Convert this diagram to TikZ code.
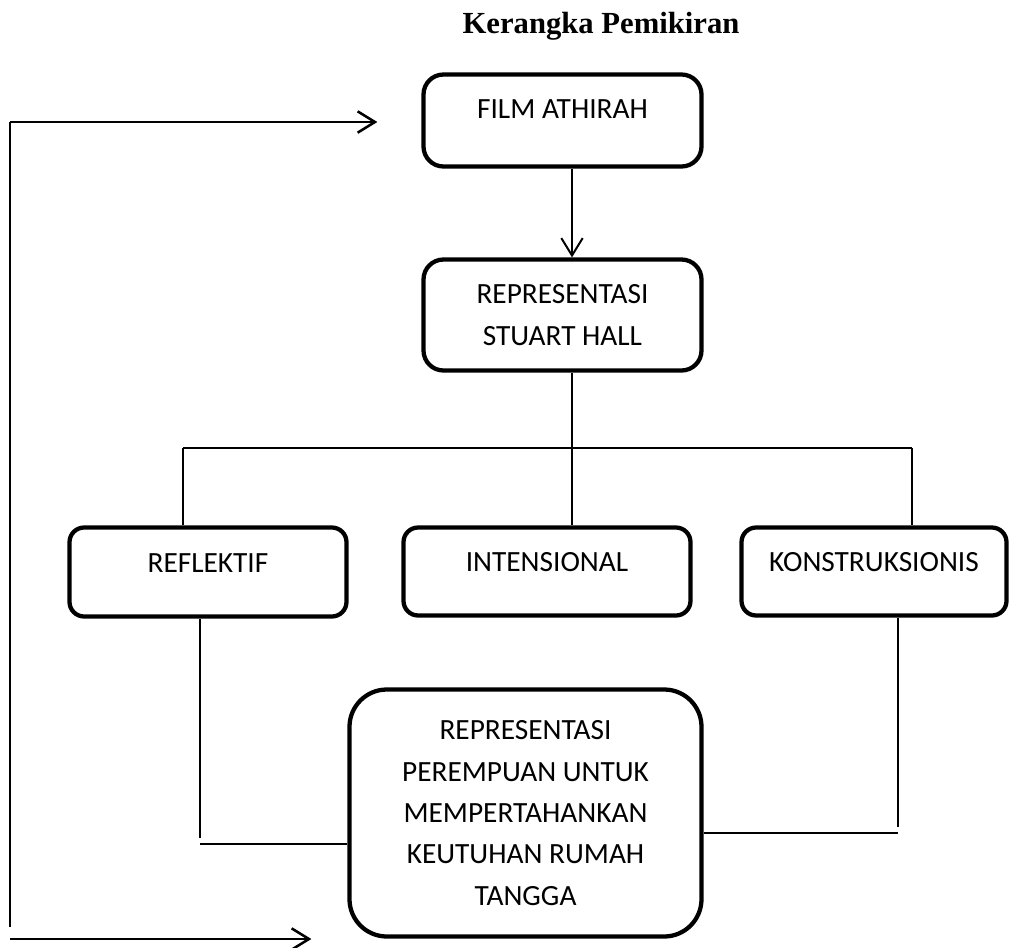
\documentclass[tikz,border=0pt]{standalone}
\usepackage{fontspec}
\setmainfont{Carlito}
\newfontfamily\titlefont{Liberation Serif}
\usetikzlibrary{arrows.meta,calc}

\newcommand{\diagfont}{\fontsize{22}{31}\selectfont}

\tikzset{
	box/.style = {draw, line width=3.2pt, rounded corners=#1, inner sep=0pt, align=center, font=\diagfont},
	box/.default = 15pt,
	boxsize/.style 2 args = {minimum width=#1*0.75pt, minimum height=#2*0.75pt},
	boxtext/.style = {anchor=base, inner sep=0pt, font=\diagfont},
	branch/.style = {line width=1.1pt},
	feedback/.style = {line width=1.9pt},
	barb/.style = {-{Straight Barb[length=13pt, width=16pt]}}
}

\begin{document}
\begin{tikzpicture}[x=0.75pt, y=-0.75pt]

		\useasboundingbox (0,0) rectangle (1010,947);

		% title
		\node[anchor=base, inner sep=0pt, font=\titlefont\bfseries\fontsize{23}{28}\selectfont] (title) at (601,33) {Kerangka Pemikiran};

		% draw the upper boxes
		\node[box, boxsize={278}{92}] (film) at (562.5,120.5) {};
		\node[boxtext] (filmtext) at ($(film.center)+(0,-2.5)$) {FILM ATHIRAH};
		\node[box, boxsize={278}{111}] (hall) at (562.5,315) {REPRESENTASI\\STUART HALL};

		% draw the three kinds of representation
		\node[box=11pt, boxsize={277}{89}] (reflektif) at (208,572) {};
		\node[box=11pt, boxsize={287}{88}] (intensional) at (547,571.5) {};
		\node[box=11pt, boxsize={265}{88}] (konstruksionis) at (874,571.5) {};
		\foreach \kind/\word in {reflektif/REFLEKTIF, intensional/INTENSIONAL, konstruksionis/KONSTRUKSIONIS}
		{
			\node[boxtext] (\kind text) at (\kind.center) {\word};
		}

		% draw the result box
		\node[box=28pt, boxsize={352}{247}] (result) at (525.5,813) {REPRESENTASI\\PEREMPUAN UNTUK\\MEMPERTAHANKAN\\KEUTUHAN RUMAH\\TANGGA};

		% arrow from film to representation
		\coordinate (hub) at (572,448);
		\draw[line width=1.5pt, barb] (film.south -| hub) -- (hall.north -| hub);

		% branches to the three kinds
		\coordinate (hubleft) at (183,448);
		\coordinate (hubright) at (912,448);
		\draw[branch] (hall.south -| hub) -- (hub);
		\draw[branch] (hubleft) -- (hubright);
		\draw[branch] (hubleft) -- (hubleft |- reflektif.north);
		\draw[branch] (hub) -- (hub |- intensional.north);
		\draw[branch] (hubright) -- (hubright |- konstruksionis.north);

		% join the outer kinds to the result
		\coordinate (lowleft) at (200,838);
		\coordinate (lowleftend) at (200,844);
		\draw[branch] (reflektif.south -| lowleft) -- (lowleft);
		\draw[branch] (lowleftend) -- (lowleftend -| result.west);
		\coordinate (lowright) at (898,827);
		\coordinate (lowrightend) at (898,833);
		\draw[branch] (konstruksionis.south -| lowright) -- (lowright);
		\draw[branch] (lowrightend -| result.east) -- (lowrightend);

		% feedback line on the left
		\coordinate (fbtop) at (10,122);
		\coordinate (fbbottom) at (10,927);
		\coordinate (fbarrow) at (10,939);
		\draw[feedback] (fbtop) -- (fbbottom);
		\draw[feedback, barb] (fbtop) -- ($(film.west |- fbtop)+(-44,0)$);
		\draw[feedback, barb] (fbarrow) -- ($(result.west |- fbarrow)+(-36,0)$);

	\end{tikzpicture}
\end{document}
